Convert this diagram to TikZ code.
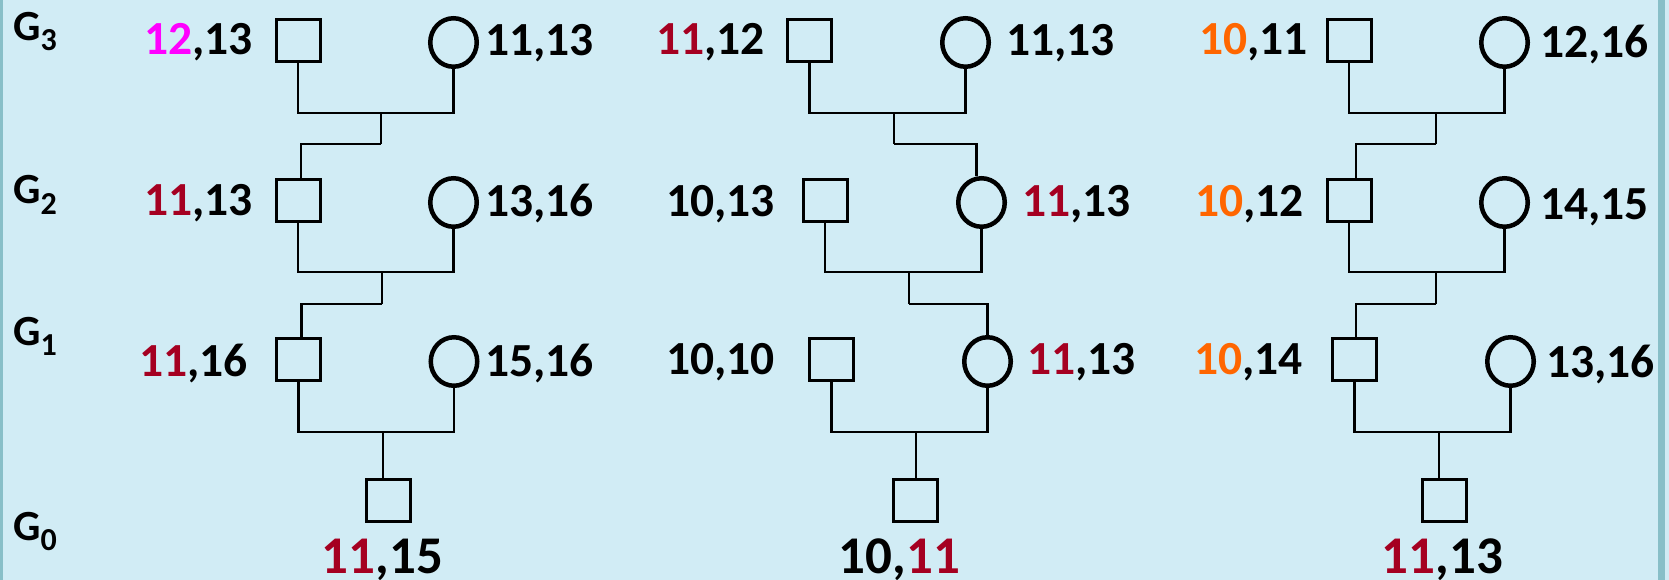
\documentclass[tikz,border=0pt]{standalone}
\usepackage{fontspec}
\setmainfont{Carlito}
\usetikzlibrary{shapes.geometric}
\definecolor{bgblue}{HTML}{D1ECF5}
\definecolor{edgeteal}{HTML}{88BFC8}
\definecolor{darkredc}{HTML}{A50021}
\definecolor{magentac}{HTML}{FF00FF}
\definecolor{orangec}{HTML}{FF6600}
\newcommand{\redn}[1]{\textcolor{darkredc}{#1}}
\newcommand{\magn}[1]{\textcolor{magentac}{#1}}
\newcommand{\orgn}[1]{\textcolor{orangec}{#1}}
\newcommand{\gsub}[1]{\raisebox{-10pt}{\fontsize{32}{32}\selectfont #1}}
\tikzset{
  male/.style={draw=black, line width=3pt, rectangle, minimum width=44pt, minimum height=42pt, inner sep=0pt},
  female/.style={draw=black, line width=4.5pt, ellipse, minimum width=46.5pt, minimum height=48.5pt, inner sep=0pt},
  lbl/.style={inner sep=0pt, font=\fontsize{47.5}{47.5}\selectfont\bfseries},
  clbl/.style={inner sep=0pt, font=\fontsize{53}{53}\selectfont\bfseries},
  glbl/.style={inner sep=0pt, anchor=base west, font=\fontsize{43}{43}\selectfont\bfseries},
  conn/.style={draw=black, line width=2.8pt},
  stepline/.style={draw=black, line width=2.2pt}
}
\begin{document}
\begin{tikzpicture}[x=1pt, y=-1pt]
\useasboundingbox (0,0) rectangle (1669,580);
\fill[bgblue] (0,0) rectangle (1669,580);
\fill[edgeteal] (0,0) rectangle (2.5,580);
\fill[edgeteal] (1658,0) rectangle (1665,580);

% generation labels
\node[glbl] (g3) at (13,41) {G\gsub{3}};
\node[glbl] (g2) at (13,204) {G\gsub{2}};
\node[glbl] (g1) at (13,345) {G\gsub{1}};
\node[glbl] (g0) at (13,540) {G\gsub{0}};

% ---------- Family 1 ----------
\node[male]   (a3m) at (298,40.5) {};
\node[female] (a3f) at (453.5,42.5) {};
\node[male]   (a2m) at (298,200.5) {};
\node[female] (a2f) at (453.5,202.5) {};
\node[male]   (a1m) at (298.5,359.5) {};
\node[female] (a1f) at (454,361.5) {};
\node[male]   (a0)  at (388.5,500) {};
\node[lbl, anchor=base east] (ta3m) at (253,55) {\magn{12},13};
\node[lbl, anchor=base west] (ta3f) at (485,56) {11,13};
\node[lbl, anchor=base east] (ta2m) at (253,215) {\redn{11},13};
\node[lbl, anchor=base west] (ta2f) at (485,216) {13,16};
\node[lbl, anchor=base east] (ta1m) at (248,376) {\redn{11},16};
\node[lbl, anchor=base west] (ta1f) at (485,376) {15,16};
\node[clbl, anchor=base] (ta0) at (382.5,573) {\redn{11},15};

\coordinate (ja3) at (381,113);
\coordinate (ka3) at (381,144);
\coordinate (ja2) at (382,272);
\coordinate (ka2) at (382,304);
\coordinate (ja1) at (383,432);
\draw[conn] (a3m.south) |- (a3f.south |- ja3) -- (a3f.south);
\draw[conn] (ja3) -- (ka3);
\draw[stepline] (ka3) -| ([xshift=3pt]a2m.north);
\draw[conn] (a2m.south) |- (a2f.south |- ja2) -- (a2f.south);
\draw[conn] (ja2) -- (ka2);
\draw[stepline] (ka2) -| ([xshift=3pt]a1m.north);
\draw[conn] (a1m.south) |- (a1f.south |- ja1) -- (a1f.south);
\draw[conn] (ja1) -- (ja1 |- a0.north);

% ---------- Family 2 ----------
\node[male]   (b3m) at (809.5,40.5) {};
\node[female] (b3f) at (965.5,42.5) {};
\node[male]   (b2m) at (825,200.5) {};
\node[female] (b2f) at (981.5,202.5) {};
\node[male]   (b1m) at (831.5,359) {};
\node[female] (b1f) at (987.5,361.5) {};
\node[male]   (b0)  at (915.5,500) {};
\node[lbl, anchor=base east] (tb3m) at (765,55) {\redn{11},12};
\node[lbl, anchor=base west] (tb3f) at (1006,56) {11,13};
\node[lbl, anchor=base east] (tb2m) at (775,216) {10,13};
\node[lbl, anchor=base west] (tb2f) at (1022,216) {\redn{11},13};
\node[lbl, anchor=base east] (tb1m) at (775,374) {10,10};
\node[lbl, anchor=base west] (tb1f) at (1027,374) {\redn{11},13};
\node[clbl, anchor=base] (tb0) at (899.5,573) {10,\redn{11}};

\coordinate (jb3) at (894,113);
\coordinate (kb3) at (894,144);
\coordinate (jb2) at (909,272);
\coordinate (kb2) at (909,304);
\coordinate (jb1) at (916,432);
\draw[conn] (b3m.south) |- (b3f.south |- jb3) -- (b3f.south);
\draw[conn] (jb3) -- (kb3);
\draw[stepline] (kb3) -| ([xshift=-5pt]b2f.north);
\draw[conn] (b2m.south) |- (b2f.south |- jb2) -- (b2f.south);
\draw[conn] (jb2) -- (kb2);
\draw[stepline] (kb2) -| (b1f.north);
\draw[conn] (b1m.south) |- (b1f.south |- jb1) -- (b1f.south);
\draw[conn] (jb1) -- (jb1 |- b0.north);

% ---------- Family 3 ----------
\node[male]   (c3m) at (1349,40.5) {};
\node[female] (c3f) at (1504.5,42.5) {};
\node[male]   (c2m) at (1349,200.5) {};
\node[female] (c2f) at (1504.5,202.5) {};
\node[male]   (c1m) at (1354.5,359.5) {};
\node[female] (c1f) at (1510.5,361.5) {};
\node[male]   (c0)  at (1444.5,500) {};
\node[lbl, anchor=base east] (tc3m) at (1308,55) {\orgn{10},11};
\node[lbl, anchor=base west] (tc3f) at (1540,58) {12,16};
\node[lbl, anchor=base east] (tc2m) at (1304,216) {\orgn{10},12};
\node[lbl, anchor=base west] (tc2f) at (1540,219) {14,15};
\node[lbl, anchor=base east] (tc1m) at (1303,374) {\orgn{10},14};
\node[lbl, anchor=base west] (tc1f) at (1546,377) {13,16};
\node[clbl, anchor=base] (tc0) at (1442.5,573) {\redn{11},13};

\coordinate (jc3) at (1436,113);
\coordinate (kc3) at (1436,144);
\coordinate (jc2) at (1436,272);
\coordinate (kc2) at (1436,304);
\coordinate (jc1) at (1439,432);
\draw[conn] (c3m.south) |- (c3f.south |- jc3) -- (c3f.south);
\draw[conn] (jc3) -- (kc3);
\draw[stepline] (kc3) -| ([xshift=7pt]c2m.north);
\draw[conn] (c2m.south) |- (c2f.south |- jc2) -- (c2f.south);
\draw[conn] (jc2) -- (kc2);
\draw[stepline] (kc2) -| ([xshift=1.5pt]c1m.north);
\draw[conn] (c1m.south) |- (c1f.south |- jc1) -- (c1f.south);
\draw[conn] (jc1) -- (jc1 |- c0.north);
\end{tikzpicture}
\end{document}
